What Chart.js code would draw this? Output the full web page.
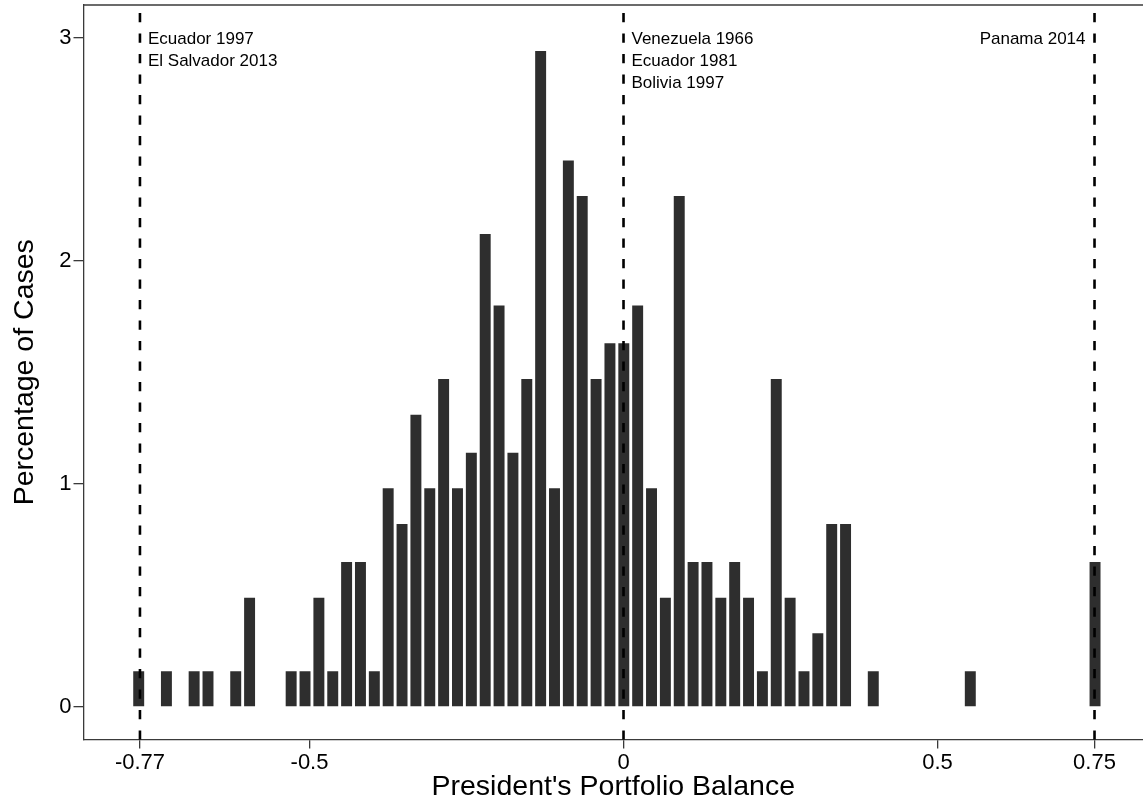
<!DOCTYPE html>
<html>
<head>
<meta charset="utf-8">
<script src="https://cdn.jsdelivr.net/npm/chart.js@4.4.1/dist/chart.umd.min.js"></script>
<style>
  html, body { margin: 0; padding: 0; background: #fff; }
  #wrap { width: 1143px; height: 806px; }
</style>
</head>
<body>
<div id="wrap"><canvas id="chart" width="1143" height="806"></canvas></div>
<script>
// histogram bins: centre of the first bin and the bin width
const binStart = -0.7720;
const binWidth = 0.02207;

// percentage of cases in each bin, left to right (70 bins)
const percentages = [
  0.16, 0, 0.16, 0, 0.16, 0.16, 0, 0.16, 0.49, 0,
  0, 0.16, 0.16, 0.49, 0.16, 0.65, 0.65, 0.16, 0.98, 0.82,
  1.31, 0.98, 1.47, 0.98, 1.14, 2.12, 1.80, 1.14, 1.47, 2.94,
  0.98, 2.45, 2.29, 1.47, 1.63, 1.63, 1.80, 0.98, 0.49, 2.29,
  0.65, 0.65, 0.49, 0.65, 0.49, 0.16, 1.47, 0.49, 0.16, 0.33,
  0.82, 0.82, 0, 0.16, 0, 0, 0, 0, 0, 0,
  0.16, 0, 0, 0, 0, 0, 0, 0, 0, 0.65
];

const xTicks = [-0.77, -0.5, 0, 0.5, 0.75];
const yTicks = [0, 1, 2, 3];

// reference lines and the cases named beside them
const markerValues = [-0.77, 0, 0.75];
const markerLabels = [
  ['Ecuador 1997', 'El Salvador 2013'],
  ['Venezuela 1966', 'Ecuador 1981', 'Bolivia 1997'],
  ['Panama 2014']
];

const points = percentages.map((p, i) => ({ x: binStart + i * binWidth, y: p }));

const axisColor = '#3a3a3a';
const fontFamily = '"Liberation Sans", Arial, Helvetica, sans-serif';
Chart.defaults.font.family = fontFamily;
Chart.defaults.color = '#000';

const noPad = s => { s.paddingTop = 0; s.paddingBottom = 0; s.paddingLeft = 0; s.paddingRight = 0; };

const markers = {
  id: 'markers',
  afterDatasetsDraw(chart) {
    const { ctx, chartArea, scales } = chart;
    const x = scales.x;
    ctx.save();
    // top frame line
    ctx.strokeStyle = axisColor;
    ctx.lineWidth = 1.3;
    ctx.beginPath();
    ctx.moveTo(chartArea.left, chartArea.top);
    ctx.lineTo(chartArea.right, chartArea.top);
    ctx.stroke();

    ctx.font = '17px ' + fontFamily;
    ctx.fillStyle = '#000';
    ctx.textBaseline = 'middle';
    markerValues.forEach((v, i) => {
      const px = x.getPixelForValue(v);
      ctx.strokeStyle = '#000';
      ctx.lineWidth = 2.6;
      ctx.setLineDash([9.3, 11.2]);
      ctx.beginPath();
      ctx.moveTo(px, chartArea.top + 8);
      ctx.lineTo(px, chartArea.bottom);
      ctx.stroke();

      const right = px > chartArea.right - 200;
      ctx.textAlign = right ? 'right' : 'left';
      markerLabels[i].forEach((txt, k) => {
        ctx.fillText(txt, right ? px - 9 : px + 8, chartArea.top + 34 + k * 22.3);
      });
    });
    ctx.restore();
  }
};

new Chart(document.getElementById('chart'), {
  type: 'bar',
  data: {
    datasets: [{
      data: points,
      backgroundColor: '#2e2e2e',
      borderWidth: 0,
      barPercentage: 0.79,
      categoryPercentage: 1
    }]
  },
  options: {
    responsive: false,
    animation: false,
    layout: { padding: { top: 5, right: 0, left: 0, bottom: 0 } },
    plugins: { legend: { display: false }, tooltip: { enabled: false } },
    scales: {
      x: {
        type: 'linear',
        offset: false,
        min: -0.8599,
        max: 0.8272,
        afterBuildTicks: s => { s.ticks = xTicks.map(v => ({ value: v })); },
        afterFit: s => { s.height = 66.5; noPad(s); },
        ticks: {
          autoSkip: false,
          maxRotation: 0,
          padding: 1,
          font: { size: 22 },
          callback: v => String(v)
        },
        grid: { drawOnChartArea: false, tickLength: 9, color: axisColor, lineWidth: 1.3, offset: false },
        border: { color: axisColor, width: 1.3 },
        title: {
          display: true,
          text: "President's Portfolio Balance",
          font: { size: 28.5 },
          padding: { top: 0, bottom: 2 }
        }
      },
      y: {
        min: -0.1457,
        max: 3.1466,
        afterBuildTicks: s => { s.ticks = yTicks.map(v => ({ value: v })); },
        afterFit: s => { s.width = 83.5; noPad(s); },
        ticks: { padding: 2, font: { size: 22 }, callback: v => String(v) },
        grid: { drawOnChartArea: false, tickLength: 10, color: axisColor, lineWidth: 1.3 },
        border: { color: axisColor, width: 1.3 },
        title: {
          display: true,
          text: 'Percentage of Cases',
          font: { size: 28.5 },
          padding: { top: 8, bottom: 0 }
        }
      }
    }
  },
  plugins: [markers]
});
</script>
</body>
</html>
